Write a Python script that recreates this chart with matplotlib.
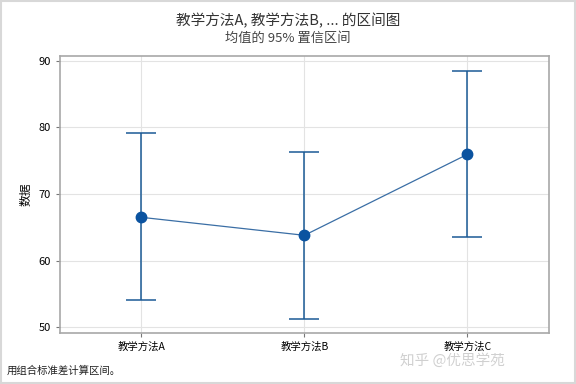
import matplotlib.pyplot as plt
from matplotlib.patches import Rectangle

plt.rcParams['font.family'] = ['Noto Sans CJK SC', 'DejaVu Sans']

# 区间图数据 (均值和 95% 置信区间)
groups = ['教学方法A', '教学方法B', '教学方法C']
means = [66.5, 63.8, 75.95]
ci_low = [54.15, 51.3, 63.5]
ci_high = [79.1, 76.3, 88.45]
yticks = [50, 60, 70, 80, 90]

fig = plt.figure(figsize=(5.76, 3.84), dpi=100)
ax = fig.add_axes([0.104, 0.133, 0.849, 0.721])

x = list(range(len(groups)))
err_lo = [m - l for m, l in zip(means, ci_low)]
err_hi = [h - m for m, h in zip(means, ci_high)]

ax.errorbar(x, means, yerr=[err_lo, err_hi], fmt='none', ecolor='#1b5a96',
            elinewidth=1.1, capsize=11, capthick=1.1, zorder=3)
ax.plot(x, means, color='#3a6ea5', lw=0.9, zorder=3)
ax.plot(x, means, 'o', color='#0b53a0', ms=7.5, zorder=4)

ax.set_xlim(-0.5, 2.5)
ax.set_ylim(49.15, 90.7)
ax.set_xticks(x)
ax.set_xticklabels(groups, fontsize=7.5)
ax.set_yticks(yticks)
ax.tick_params(axis='y', labelsize=8, length=3, color='#777777')
ax.tick_params(axis='x', length=3, color='#777777')
ax.set_ylabel('数据', fontsize=8.5, labelpad=4)

ax.grid(True, color='#e3e3e3', lw=0.8)
ax.set_axisbelow(True)
for s in ax.spines.values():
    s.set_color('#a8a8a8')
    s.set_linewidth(1.2)

fig.text(0.5, 0.945, '教学方法A, 教学方法B, ... 的区间图', ha='center', va='center',
         fontsize=10.5, color='#333333')
fig.text(0.5, 0.9, '均值的 95% 置信区间', ha='center', va='center',
         fontsize=9.5, color='#444444')
fig.text(0.012, 0.035, '用组合标准差计算区间。', ha='left', va='center',
         fontsize=7.5, color='#222222')
fig.text(0.785, 0.062, '知乎 @优思学苑', ha='center', va='center',
         fontsize=10.5, color='#d0d0d0')

fig.patches.append(Rectangle((0.002, 0.003), 0.996, 0.994, transform=fig.transFigure,
                             fill=False, ec='#d8d8d8', lw=1.5))

fig.savefig('out.png', dpi=100)
